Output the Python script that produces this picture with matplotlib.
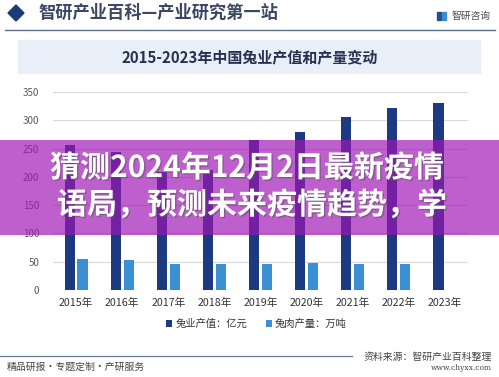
import matplotlib.pyplot as plt
import matplotlib.patheffects as pe
from matplotlib.patches import Rectangle, Polygon

plt.rcParams['font.family'] = ['Noto Sans CJK SC', 'DejaVu Sans']

# données
annees = ['2015年', '2016年', '2017年', '2018年', '2019年',
          '2020年', '2021年', '2022年', '2023年']
valeur_production = [257, 244, 208, 212, 265, 279, 306, 321, 331]   # 亿元
production_viande = [54.8, 53, 46, 46, 45.4, 48, 45.4, 45.4, None]  # 万吨
graduations = [0, 50, 100, 150, 200, 250, 300, 350]

titre_page = '智研产业百科—产业研究第一站'
titre = '2015-2023年中国兔业产值和产量变动'
legende = ['兔业产值：亿元', '兔肉产量：万吨']
bandeau = ['猜测2024年12月2日最新疫情', '语局，预测未来疫情趋势，学']

W, H = 499, 377
fig = plt.figure(figsize=(W / 100, H / 100), dpi=100)
fig.patch.set_facecolor('white')

# fond : entête, titre, pied de page (coordonnées en pixels)
fond = fig.add_axes([0, 0, 1, 1], zorder=0)
fond.set_xlim(0, W)
fond.set_ylim(H, 0)
fond.axis('off')

fond.add_patch(Polygon([(8, 13), (16, 5), (24, 13), (16, 21)], closed=True,
                       color='#1f3a7a'))
fond.text(38, 13, titre_page, fontsize=12.4, fontweight='bold',
          color='#3b4663', va='center', ha='left')
fond.plot([5, 495], [29.5, 29.5], color='#5d6d88', lw=1)
fond.add_patch(Rectangle((437, 12), 4, 8, color='#2a4a8a'))
fond.add_patch(Rectangle((442, 12), 4, 8, color='#3a8fd0'))
fond.text(452, 16, '智研咨询', fontsize=7, color='#4a4a4a', va='center')

fond.add_patch(Rectangle((18, 40), 462, 33, color='#e9eff8'))
fond.text(250, 57, titre, fontsize=10.8, fontweight='bold',
          color='#26304f', ha='center', va='center')

fond.plot([0, 352], [355.5, 355.5], color='#6a7a92', lw=0.9)
fond.text(7, 367, '精品研报・专题定制・产研服务', fontsize=7.1,
          color='#444444', va='center')
fond.text(492, 357, '资料来源：智研产业百科整理', fontsize=7.1,
          color='#444444', va='center', ha='right')
fond.text(492, 368, 'www.chyxx.com', fontsize=5.5, family='DejaVu Serif',
          color='#444444', va='center', ha='right')

# graphique
ax = fig.add_axes([53 / W, (H - 290) / H, 415 / W, 198 / H], zorder=1)
ax.patch.set_alpha(0)
x = range(len(annees))
larg = 0.22
ax.bar([i - 0.14 for i in x], valeur_production, width=larg,
       color='#1b3a7f', zorder=3, label=legende[0])
viande_x = [i + 0.14 for i, v in zip(x, production_viande) if v is not None]
viande_v = [v for v in production_viande if v is not None]
ax.bar(viande_x, viande_v, width=larg, color='#3b8fd3', zorder=3,
       label=legende[1])

ax.set_xlim(-0.5, len(annees) - 0.5)
ax.set_ylim(0, 350)
ax.set_yticks(graduations)
ax.yaxis.grid(True, color='#d9d9d9', lw=0.8, zorder=0)
ax.set_xticks(list(x))
ax.set_xticklabels(annees, fontsize=7.7, color='#333333')
ax.tick_params(axis='y', labelsize=7, labelcolor='#595959', length=0, pad=10)
ax.tick_params(axis='x', length=0, pad=6)
for s in ax.spines.values():
    s.set_visible(False)

ax.legend(loc='upper center', bbox_to_anchor=(0.49, -0.1), ncol=2,
          frameon=False, fontsize=7.4, handlelength=0.6, handleheight=0.6,
          handletextpad=0.3, columnspacing=1.8, labelcolor='#333333')

# bandeau violet par-dessus
dessus = fig.add_axes([0, 0, 1, 1], zorder=5)
dessus.set_xlim(0, W)
dessus.set_ylim(H, 0)
dessus.axis('off')
dessus.patch.set_alpha(0)
dessus.add_patch(Rectangle((0, 140), W, 95, color='#9e14b4', alpha=0.68,
                           lw=0))
ombre = [pe.withSimplePatchShadow(offset=(1, -1), shadow_rgbFace='#555555',
                                  alpha=0.5)]
dessus.text(50, 168, bandeau[0], fontsize=21.6, fontweight='bold',
            color='white', va='center', ha='left', path_effects=ombre)
dessus.text(57, 205, bandeau[1], fontsize=21.6, fontweight='bold',
            color='white', va='center', ha='left', path_effects=ombre)

fig.savefig('out.png', dpi=100)
